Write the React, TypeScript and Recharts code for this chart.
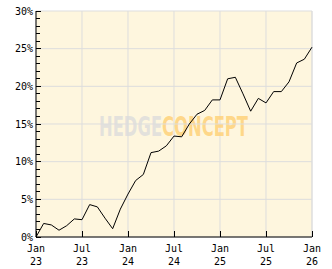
import React from "react";
import {
  LineChart,
  Line,
  XAxis,
  YAxis,
  CartesianGrid,
  ReferenceLine,
  Customized,
} from "recharts";

// monthly cumulative performance in %, Jan 23 .. Jan 26
const monthIndex = [
  0, 1, 2, 3, 4, 5, 6, 7, 8, 9, 10, 11, 12, 13, 14, 15, 16, 17, 18, 19, 20,
  21, 22, 23, 24, 25, 26, 27, 28, 29, 30, 31, 32, 33, 34, 35, 36,
];
const performance = [
  0, 1.8, 1.6, 0.9, 1.5, 2.4, 2.3, 4.3, 4.0, 2.5, 1.1, 3.7, 5.7, 7.5, 8.3,
  11.2, 11.4, 12.1, 13.4, 13.3, 15.0, 16.3, 16.8, 18.2, 18.2, 21.0, 21.2, 19.0,
  16.7, 18.4, 17.8, 19.3, 19.3, 20.6, 23.1, 23.6, 25.2,
];

const xTicks = [0, 6, 12, 18, 24, 30, 36];
const xTickMonths = ["Jan", "Jul", "Jan", "Jul", "Jan", "Jul", "Jan"];
const xTickYears = ["23", "23", "24", "24", "25", "25", "26"];

const yMajorTicks = [0, 5, 10, 15, 20, 25, 30];
const yAllTicks = [
  0, 1, 2, 3, 4, 5, 6, 7, 8, 9, 10, 11, 12, 13, 14, 15, 16, 17, 18, 19, 20,
  21, 22, 23, 24, 25, 26, 27, 28, 29, 30,
];

const data = monthIndex.map((m, i) => ({ m, perf: performance[i] }));

const FONT = "'DejaVu Sans Mono', monospace";

function YTick(props: any) {
  const { x, y, payload } = props;
  const v = payload.value;
  const major = v % 5 === 0;
  return (
    <g>
      <line
        x1={x}
        x2={x + (major ? 5 : 4)}
        y1={y}
        y2={y}
        stroke="#000"
        shapeRendering="crispEdges"
      />
      {major && (
        <text
          x={x - 3}
          y={y}
          dy={3.5}
          textAnchor="end"
          fontFamily={FONT}
          fontSize={10}
          fill="#000"
        >
          {v}%
        </text>
      )}
    </g>
  );
}

function XTick(props: any) {
  const { x, y, index } = props;
  return (
    <g>
      <line
        x1={x}
        x2={x}
        y1={y}
        y2={y - 6}
        stroke="#000"
        shapeRendering="crispEdges"
      />
      <text x={x} y={y + 15} textAnchor="middle" fontFamily={FONT} fontSize={10} fill="#000">
        {xTickMonths[index]}
      </text>
      <text x={x} y={y + 28} textAnchor="middle" fontFamily={FONT} fontSize={10} fill="#000">
        {xTickYears[index]}
      </text>
    </g>
  );
}

// watermark behind the line
function Watermark() {
  return (
    <text
      x={99}
      y={136}
      textLength={149}
      lengthAdjust="spacingAndGlyphs"
      fontFamily="'DejaVu Sans Condensed', 'DejaVu Sans', sans-serif"
      fontWeight="bold"
      fontSize={27}
    >
      <tspan fill="#DCDCDC" fillOpacity={0.8}>HEDGE</tspan>
      <tspan fill="#FFD27A" fillOpacity={0.85}>CONCEPT</tspan>
    </text>
  );
}

export default function App() {
  return (
    <div style={{ position: "absolute", left: 0, top: 0, background: "#fff" }}>
      <LineChart
        width={332}
        height={269}
        data={data}
        margin={{ top: 11, right: 20, bottom: 0, left: 0 }}
      >
        <CartesianGrid
          horizontal={false}
          stroke="#DDDDDD"
          fill="#FEF6DE"
          fillOpacity={1}
        />
        {yMajorTicks.map((v) => (
          <ReferenceLine key={v} y={v} stroke="#DDDDDD" />
        ))}
        <ReferenceLine x={36} stroke="#DDDDDD" />
        <Customized component={<Watermark />} />
        <XAxis
          dataKey="m"
          type="number"
          domain={[0, 36]}
          ticks={xTicks}
          interval={0}
          height={32}
          tickSize={0}
          tickMargin={0}
          tickLine={false}
          axisLine={{ stroke: "#000" }}
          tick={<XTick />}
        />
        <YAxis
          type="number"
          domain={[0, 30]}
          ticks={yAllTicks}
          interval={0}
          width={36}
          tickSize={0}
          tickMargin={0}
          tickLine={false}
          axisLine={{ stroke: "#000" }}
          tick={<YTick />}
        />
        <Line
          type="linear"
          dataKey="perf"
          stroke="#000"
          strokeWidth={1}
          dot={false}
          isAnimationActive={false}
        />
      </LineChart>
    </div>
  );
}
